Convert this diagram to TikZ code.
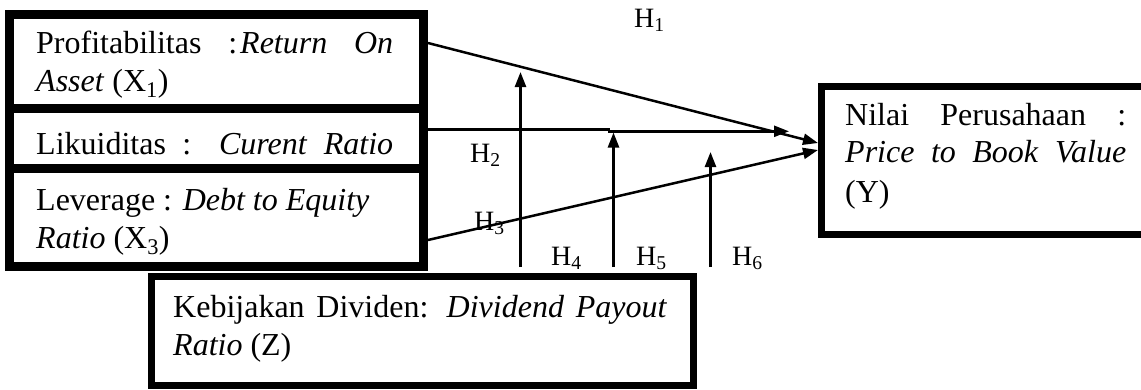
\documentclass[tikz,border=0pt]{standalone}
\usepackage{fontspec}
\setmainfont{Liberation Serif}
\usetikzlibrary{arrows.meta}
\begin{document}
\begin{tikzpicture}[x=1pt,y=-1pt,
  boxx/.style={draw, line width=9pt, inner sep=0pt, anchor=north west},
  boxy/.style={draw, line width=7pt, inner sep=0pt, anchor=north west},
  txt/.style={inner sep=0pt, anchor=base west, font=\fontsize{32pt}{38pt}\selectfont},
  hlab/.style={inner sep=0pt, anchor=base west, font=\fontsize{28pt}{32pt}\selectfont},
  conn/.style={line width=2.5pt, -{Triangle[length=15pt,width=11pt]}}]
\useasboundingbox (0,0) rectangle (1141,389);
\clip (0,0) rectangle (1141,389);
% boxes
\node[boxx, minimum width=414pt, minimum height=93.5pt] (x1) at (5,10) {};
\node[boxx, minimum width=414pt, minimum height=60pt] (x2) at (5,103.5) {};
\node[boxx, minimum width=414pt, minimum height=98pt] (x3) at (5,163.5) {};
\node[boxy, minimum width=340pt, minimum height=148pt] (y) at (818,83) {};
\node[boxy, minimum width=542pt, minimum height=109pt] (z) at (148,273) {};
% texts
\node[txt] (x1a) at (36,53.3) {\makebox[357pt][s]{Profitabilitas :\kern3pt\textit{Return} \textit{On}}};
\node[txt] (x1b) at (36,91.7) {\textit{Asset} (X\textsubscript{1})};
\node[txt] (x2a) at (36,154) {\makebox[357pt][s]{Likuiditas : \textit{Curent} \textit{Ratio}}};
\node[txt] (x3a) at (36,210) {Leverage : \textit{Debt to Equity}};
\node[txt] (x3b) at (36,248) {\textit{Ratio} (X\textsubscript{3})};
\node[txt] (ya) at (845,125) {\makebox[281pt][s]{Nilai Perusahaan :}};
\node[txt] (yb) at (845,162.5) {\makebox[281pt][s]{\textit{Price} \textit{to} \textit{Book} \textit{Value}}};
\node[txt] (yc) at (845,202.5) {(Y)};
\node[txt] (za) at (173,317) {\makebox[494pt][s]{Kebijakan Dividen: \textit{Dividend} \textit{Payout}}};
\node[txt] (zb) at (173,355) {\textit{Ratio} (Z)};
% hypothesis labels
\node[hlab] (h1) at (634,27) {H\textsubscript{1}};
\node[hlab] (h2) at (470,162) {H\textsubscript{2}};
\node[hlab] (h3) at (474,230) {H\textsubscript{3}};
\node[hlab] (h4) at (551,265) {H\textsubscript{4}};
\node[hlab] (h5) at (636,265) {H\textsubscript{5}};
\node[hlab] (h6) at (732,265) {H\textsubscript{6}};
% connector end points
\coordinate (j2) at (609,129.3);
\coordinate (t2) at (789,131.3);
\coordinate (t4) at (520.5,72);
\coordinate (t5) at (613.5,132.5);
\coordinate (t6) at (710.5,152);
% connectors
\draw[conn] (x1.east |- 0,43) -- (y.west |- 0,143);
\draw[conn] (x2.east |- 0,129.3) -- (j2) -- (j2 |- t2) -- (t2);
\draw[conn] (x3.east |- 0,240) -- (y.west |- 0,150);
\draw[conn] ([yshift=6pt]z.north -| t4) -- (t4);
\draw[conn] ([yshift=6pt]z.north -| t5) -- (t5);
\draw[conn] ([yshift=6pt]z.north -| t6) -- (t6);
\end{tikzpicture}
\end{document}
